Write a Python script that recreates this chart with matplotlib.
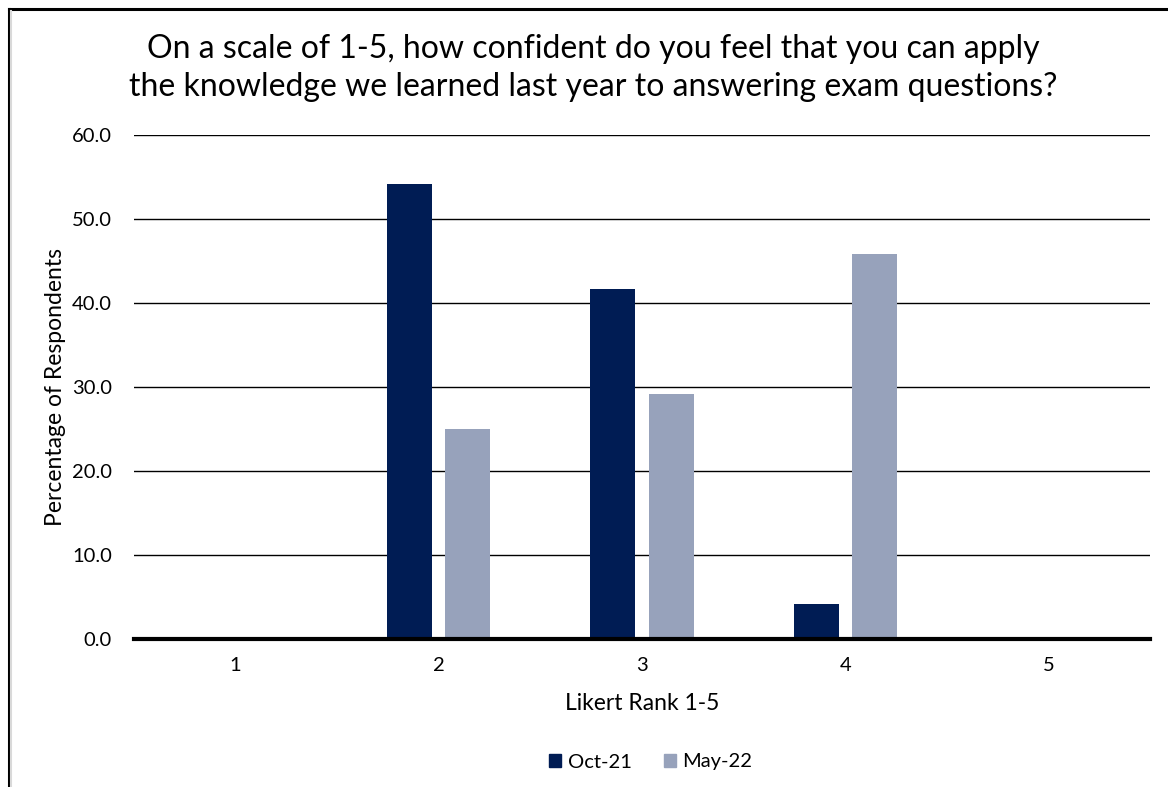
import numpy as np
import matplotlib.pyplot as plt
from matplotlib.lines import Line2D

plt.rcParams['font.family'] = ['Lato', 'DejaVu Sans']

ranks = ['1', '2', '3', '4', '5']
oct_21 = [0.0, 54.2, 41.7, 4.2, 0.0]
may_22 = [0.0, 25.0, 29.2, 45.8, 0.0]
series_names = ['Oct-21', 'May-22']
colors = ['#001c54', '#97a2bb']

fig = plt.figure(figsize=(11.68, 7.87), dpi=100)
ax = fig.add_axes([134 / 1168, 1 - 639 / 787, 1016 / 1168, 504 / 787])

x = np.arange(len(ranks))
w = 0.222
ax.bar(x - 0.143, oct_21, width=w, color=colors[0], zorder=3)
ax.bar(x + 0.143, may_22, width=w, color=colors[1], zorder=3)

ax.set_xlim(-0.5, len(ranks) - 0.5)
ax.set_ylim(0, 60)
ax.set_yticks(np.arange(0, 61, 10))
ax.set_yticklabels([f'{v:.1f}' for v in np.arange(0, 61, 10)])
ax.set_xticks(x)
ax.set_xticklabels(ranks)
ax.tick_params(length=0, labelsize=14.5, colors='#000000')
ax.tick_params(axis='y', pad=16)
ax.tick_params(axis='x', pad=13)
ax.yaxis.grid(True, color='#000000', linewidth=1.0, zorder=0)
for s in ['top', 'right', 'left']:
    ax.spines[s].set_visible(False)
ax.spines['bottom'].set_linewidth(3)
ax.spines['bottom'].set_zorder(4)

ax.set_xlabel('Likert Rank 1-5', fontsize=16.5, labelpad=14)
ax.set_ylabel('Percentage of Respondents', fontsize=16.5, labelpad=4)

fig.text(0.508, 1 - 68 / 787,
         'On a scale of 1-5, how confident do you feel that you can apply\n'
         'the knowledge we learned last year to answering exam questions?',
         ha='center', va='center', fontsize=23, linespacing=1.35)

handles = [plt.Rectangle((0, 0), 1, 1, color=c) for c in colors]
fig.legend(handles, series_names, loc='center', bbox_to_anchor=(0.557, 1 - 762 / 787),
           ncol=2, frameon=False, fontsize=14.5, handlelength=0.6, handleheight=0.6,
           handletextpad=0.3, columnspacing=1.6)

# outer chart frame (only left and top edges fall inside the image)
fig.add_artist(Line2D([8.5 / 1168, 8.5 / 1168], [0, 1 - 9 / 787], color='#000000',
                      linewidth=2.2, transform=fig.transFigure))
fig.add_artist(Line2D([8.5 / 1168, 1], [1 - 9 / 787, 1 - 9 / 787], color='#000000',
                      linewidth=2.2, transform=fig.transFigure))
fig.add_artist(Line2D([11 / 1168, 11 / 1168], [0, 1 - 11 / 787], color='#d9d9d9',
                      linewidth=1.5, transform=fig.transFigure))

fig.savefig('out.png', dpi=100)
